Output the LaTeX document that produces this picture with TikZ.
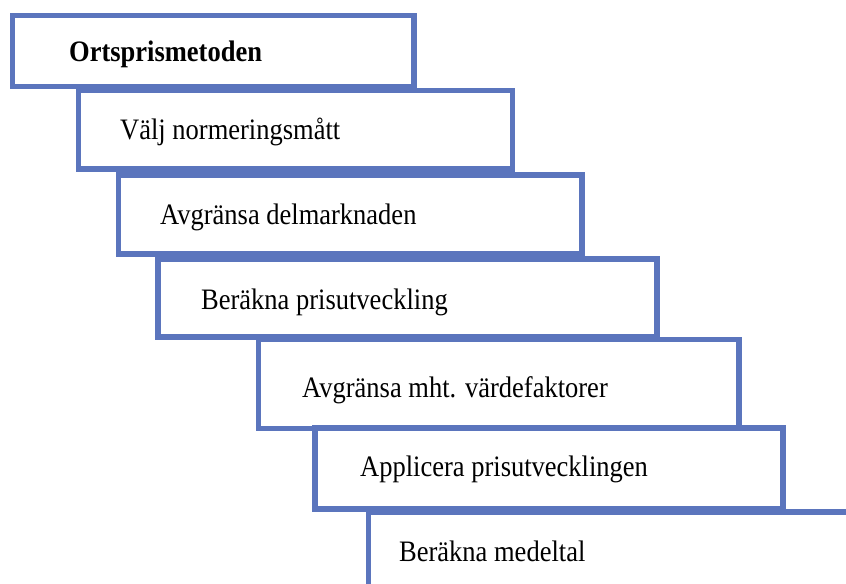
\documentclass[tikz,border=0pt]{standalone}
\usepackage{fontspec}
\setmainfont{Liberation Serif}
\usepackage{tikz}
\definecolor{stepblue}{RGB}{91,117,189}

\begin{document}
\begin{tikzpicture}[stepbox/.style={draw=stepblue,line width=5.5bp,fill=white,inner sep=0pt,outer sep=0pt},
  steptext/.style={anchor=base west,inner sep=0pt,font=\fontsize{26.5bp}{30bp}\selectfont,yscale=1.12,transform shape}]
%%
\clip (0bp,0bp) rectangle (846bp,584bp);
\fill[white] (0bp,0bp) rectangle (846bp,584bp);
  \node (b1) at (213.25bp,533.0bp) [stepbox,minimum width=401.5bp,minimum height=71.0bp] {};
  \node (b2) at (295.6bp,454.35bp) [stepbox,minimum width=433.8bp,minimum height=78.7bp] {};
  \node (b3) at (350.35bp,369.5bp) [stepbox,minimum width=463.3bp,minimum height=79.0bp] {};
  \node (b4) at (407.5bp,286.0bp) [stepbox,minimum width=499.0bp,minimum height=78.0bp] {};
  \node (b5) at (498.75bp,199.9bp) [stepbox,minimum width=480.5bp,minimum height=89.2bp] {};
  \node (b6) at (549.0bp,115.5bp) [stepbox,minimum width=468.0bp,minimum height=81.0bp] {};
  \node (b7) at (634.25bp,18.0bp) [stepbox,minimum width=531.5bp,minimum height=108.0bp] {};
%
  \node (t1) at (69.0bp,522.0bp) [steptext] {\bfseries Ortsprismetoden};
  \node (t2) at (120.0bp,444.0bp) [steptext] {Välj normeringsmått};
  \node (t3) at (160.0bp,359.5bp) [steptext] {Avgränsa delmarknaden};
  \node (t4) at (201.0bp,274.0bp) [steptext] {Beräkna prisutveckling};
  \node (t5) at (302.0bp,186.0bp) [steptext] {Avgränsa mht. värdefaktorer};
  \node (t6) at (360.0bp,107.3bp) [steptext] {Applicera prisutvecklingen};
  \node (t7) at (399.0bp,22.3bp) [steptext] {Beräkna medeltal};
%
\end{tikzpicture}
\end{document}
